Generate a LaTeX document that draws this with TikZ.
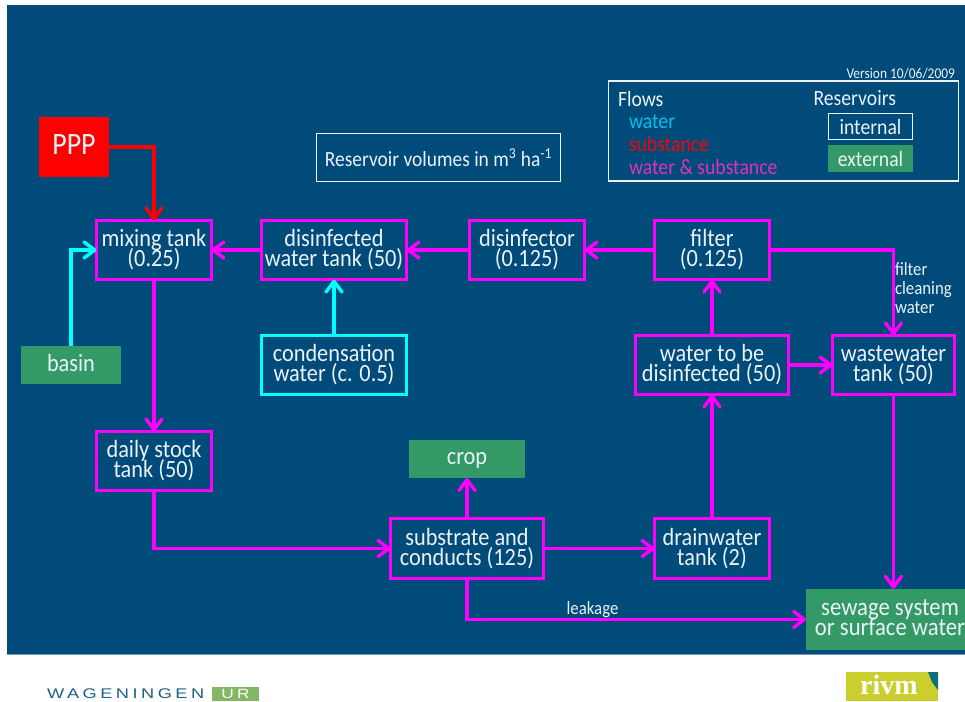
\documentclass[tikz,border=0pt]{standalone}
\usepackage{fontspec}
\setmainfont[FakeStretch=0.9]{Carlito}
\newfontfamily\wagfont[LetterSpace=25,FakeStretch=1.3]{Liberation Sans}
\newfontfamily\rivmfont{Liberation Serif}
\usetikzlibrary{arrows.meta,positioning}
\normallineskiplimit=-50pt
\lineskiplimit=-50pt
\definecolor{slide}{HTML}{004B7A}
\definecolor{slideline}{HTML}{6F9DBC}
\definecolor{extgreen}{HTML}{339966}
\definecolor{mag}{HTML}{FF00FF}
\definecolor{cy}{HTML}{00FFFF}
\definecolor{legwater}{HTML}{00C0F0}
\definecolor{legmag}{HTML}{E030C0}
\definecolor{wurblue}{HTML}{1F5F86}
\definecolor{wurgreen}{HTML}{84B763}
\definecolor{rivmolive}{HTML}{CBCF2E}
\definecolor{rivmteal}{HTML}{0F6E7A}
\definecolor{softwhite}{HTML}{EAF2F7}
\tikzset{
  x=0.75pt,y=-0.75pt,
  >={Straight Barb[round,length=8pt,width=12pt]},
  every node/.style={text=softwhite,font=\fontsize{18.6}{15}\selectfont,align=center,inner sep=0pt,outer sep=0pt},
  res/.style={draw=mag,line width=2.2pt,minimum width=#1*0.75pt-0.7pt,minimum height=44.4pt},
  cres/.style={draw=cy,line width=2.2pt,minimum width=#1*0.75pt-0.7pt,minimum height=44.4pt},
  ext/.style={fill=extgreen,minimum width=#1*0.75pt},
  frame/.style={draw=softwhite,line width=0.9pt},
  mflow/.style={draw=mag,line width=2.6pt,->},
  cflow/.style={draw=cy,line width=2.6pt,->},
  rflow/.style={draw=red,line width=2.6pt,->},
  note/.style={font=\fontsize{14}{14.3}\selectfont,align=left,anchor=west},
  leg/.style={font=\fontsize{16.4}{15}\selectfont,anchor=west},
}
\begin{document}
\begin{tikzpicture}
\useasboundingbox (0,0) rectangle (965,701);
\fill[white] (0,0) rectangle (965,701);
\fill[slide] (7,5) rectangle (965,654);
\draw[slideline,line width=0.8pt] (7,654.5) -- (965,654.5);

% legend
\node[font=\fontsize{11.2}{11}\selectfont,anchor=east] (version) at (955,73.5) {Version 10/06/2009};
\node[frame,minimum width=262.5pt,minimum height=75pt] (legend) at (783.5,131) {};
\node[leg] (flows) at (618,98.5) {Flows};
\node[leg,text=legwater] (lwater) at (629,121.5) {water};
\node[leg,text=red] (lsub) at (629,144) {substance};
\node[leg,text=legmag] (lboth) at (629,166.5) {water \& substance};
\node[leg] (reservoirs) at (813.5,98.5) {Reservoirs};
\node[frame,minimum width=63pt,minimum height=20pt,font=\fontsize{16.4}{15}\selectfont] (internal) at (870.5,126.5) {internal};
\node[fill=extgreen,minimum width=64pt,minimum height=20.5pt,font=\fontsize{16.4}{15}\selectfont] (external) at (870.5,158.5) {external};

\node[frame,minimum width=183pt,minimum height=36pt,font=\fontsize{16.2}{15}\selectfont] (volumes) at (438.5,157.5) {Reservoir volumes in m\textsuperscript{3} ha\textsuperscript{-1}};

% reservoirs
\node[fill=red,minimum width=52.5pt,minimum height=45pt] (ppp) at (74,147) {};
\node[font=\fontsize{23.3}{20}\selectfont] (ppptext) at (74,144.5) {PPP};
\node[res=116] (mixing) at (154,250) {mixing tank\\(0.25)};
\node[res=146] (disinfected) at (334,250) {disinfected\\water tank (50)};
\node[res=116] (disinfector) at (527,250) {disinfector\\(0.125)};
\node[res=116] (filter) at (712,250) {filter\\(0.125)};
\node[cres=146] (condensation) at (334,365) {condensation\\water (c. 0.5)};
\node[res=154] (tobe) at (712,365) {water to be\\disinfected (50)};
\node[res=123] (wastewater) at (893.5,365) {wastewater\\tank (50)};
\node[res=116] (daily) at (154,461) {daily stock\\tank (50)};
\node[res=154] (substrate) at (467,548.5) {substrate and\\conducts (125)};
\node[res=116] (drain) at (712,548.5) {drainwater\\tank (2)};
\node[ext=100,minimum height=28.5pt] (basin) at (71,365) {};
\node (basintext) at (71,363) {basin};
\node[ext=116,minimum height=28.5pt] (crop) at (467,459) {};
\node (croptext) at (467,460.5) {crop};
\node[ext=159,minimum height=46pt] (sewage) at (885.5,619.5) {};
\node[font=\fontsize{18.9}{15}\selectfont] (sewagetext) at (890,618) {sewage system\\or surface water};

% flows
\draw[rflow] (ppp.east) -| (mixing.north);
\draw[cflow] (basin.north) |- (mixing.west);
\draw[cflow] (condensation.north) -- (disinfected.south);
\draw[mflow] (disinfected.west) -- (mixing.east);
\draw[mflow] (disinfector.west) -- (disinfected.east);
\draw[mflow] (filter.west) -- (disinfector.east);
\draw[mflow] (tobe.north) -- (filter.south);
\draw[mflow] (tobe.east) -- (wastewater.west);
\draw[mflow] (filter.east) -| (wastewater.north);
\draw[mflow] (mixing.south) -- (daily.north);
\draw[mflow] (daily.south) |- (substrate.west);
\draw[mflow] (substrate.north) -- (crop.south);
\draw[mflow] (substrate.east) -- (drain.west);
\draw[mflow] (drain.north) -- (tobe.south);
\draw[mflow] (substrate.south) |- (sewage.west);
\draw[mflow] (wastewater.south) -- (wastewater.south |- sewage.north);

% flow labels
\node[note] (cleaning) at (895,288) {filter\\cleaning\\water};
\node[font=\fontsize{14}{14}\selectfont] (leakage) at (592.5,609.5) {leakage};

% logos
\node[text=wurblue,font=\fontsize{10.5}{10.5}\wagfont,anchor=west] (wur) at (47,694) {WAGENINGEN};
\node[fill=wurgreen,text=white,font=\fontsize{10}{10}\wagfont,minimum width=35pt,minimum height=10.5pt] (ur) at (235.5,694) {UR};
\node[fill=rivmolive,minimum width=69pt,minimum height=21.5pt] (rivmbox) at (891.5,686.5) {};
\fill[rivmteal] (928,672) -- (938,672) -- (938,690) -- (932,682) -- cycle;
\node[font=\fontsize{21}{21}\rivmfont\bfseries,text=white] (rivm) at (889,685) {rivm};
\end{tikzpicture}
\end{document}
